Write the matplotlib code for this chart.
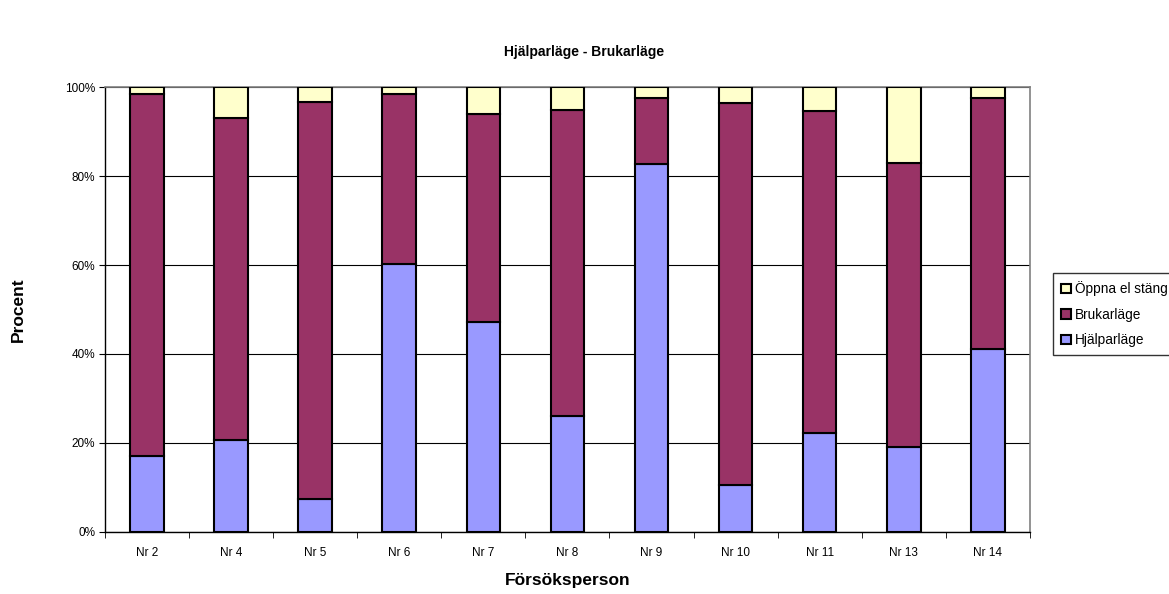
import matplotlib
matplotlib.use("Agg")
import matplotlib.pyplot as plt
import numpy as np

plt.rcParams['font.family'] = ['Liberation Sans', 'DejaVu Sans']

categories = ["Nr 2", "Nr 4", "Nr 5", "Nr 6", "Nr 7", "Nr 8", "Nr 9", "Nr 10", "Nr 11", "Nr 13", "Nr 14"]
hjalp = [17.1, 20.6, 7.3, 60.3, 47.1, 26.1, 82.8, 10.5, 22.1, 19.1, 41.0]
brukar_top = [98.6, 93.0, 96.8, 98.6, 93.9, 95.0, 97.5, 96.5, 94.7, 83.0, 97.7]
brukar = [t - h for t, h in zip(brukar_top, hjalp)]
oppna = [100 - t for t in brukar_top]

fig = plt.figure(figsize=(11.69, 5.94), dpi=100)
ax = fig.add_axes([0.0898, 0.105, 0.7912, 0.748])

x = np.arange(len(categories))
w = 0.4
kw = dict(width=w, edgecolor='black', linewidth=1.5, zorder=3)
b1 = ax.bar(x, hjalp, color='#9999FF', label='Hjälparläge', **kw)
b2 = ax.bar(x, brukar, bottom=hjalp, color='#993366', label='Brukarläge', **kw)
b3 = ax.bar(x, oppna, bottom=brukar_top, color='#FFFFCC', label='Öppna el stäng', **kw)

ax.set_xlim(-0.5, len(categories) - 0.5)
ax.set_ylim(0, 100)
ax.set_yticks([0, 20, 40, 60, 80, 100])
ax.set_yticklabels(['0%', '20%', '40%', '60%', '80%', '100%'], fontsize=8.5)
ax.set_xticks(x)
ax.set_xticklabels(categories, fontsize=8.5)
ax.set_xticks(np.arange(len(categories) + 1) - 0.5, minor=True)
ax.tick_params(axis='x', which='major', length=0, pad=11)
ax.tick_params(axis='x', which='minor', length=4, direction='out', color='black')
ax.tick_params(axis='y', length=4, direction='out', color='black', pad=3)
ax.yaxis.grid(True, color='black', linewidth=0.8, zorder=0)
ax.set_axisbelow(True)
for s in ['top', 'right']:
    ax.spines[s].set_color('#808080')
    ax.spines[s].set_linewidth(1.2)
for s in ['left', 'bottom']:
    ax.spines[s].set_color('black')
    ax.spines[s].set_linewidth(1.0)

ax.set_xlabel('Försöksperson', fontsize=12.5, fontweight='bold', labelpad=10)
ax.set_ylabel('Procent', fontsize=12.5, fontweight='bold', labelpad=28)
fig.text(0.5, 1 - 52 / 594, 'Hjälparläge - Brukarläge', ha='center', va='center', fontsize=10, fontweight='bold')

leg = ax.legend(handles=[b3, b2, b1], loc='upper left',
                bbox_to_anchor=(1053 / 1169, (594 - 273) / 594),
                bbox_transform=fig.transFigure, borderaxespad=0, fontsize=9.8, frameon=True, fancybox=False,
                handlelength=0.7, handleheight=0.7, handletextpad=0.3, borderpad=0.6,
                labelspacing=0.85, edgecolor='black')
leg.get_frame().set_linewidth(1.0)
for h in leg.legend_handles:
    h.set_linewidth(1.5)

fig.savefig('out.png', dpi=100)
